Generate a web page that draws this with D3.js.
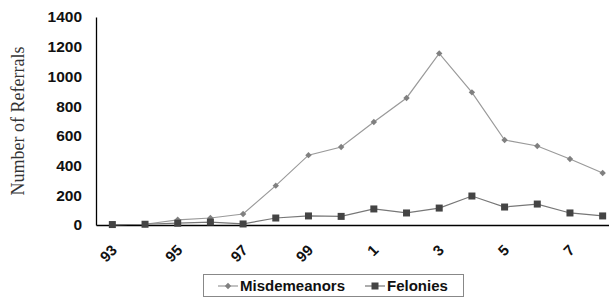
<!DOCTYPE html>
<html>
<head>
<meta charset="utf-8">
<script src="https://cdn.jsdelivr.net/npm/d3@7"></script>
<style>
  body { margin: 0; background: #fff; }
  .tick text { font-family: "Liberation Sans", Arial, sans-serif; font-weight: bold; }
</style>
</head>
<body>
<div id="chart"></div>
<script>
// Chart data
var years = ["93", "94", "95", "96", "97", "98", "99", "0", "1", "2", "3", "4", "5", "6", "7", "8"];
var misdemeanors = [2, 5, 35, 47, 74, 265, 470, 525, 693, 855, 1155, 893, 572, 532, 444, 350];
var felonies = [3, 5, 12, 20, 7, 47, 61, 58, 108, 81, 114, 195, 121, 141, 81, 61];
var yTicks = [0, 200, 400, 600, 800, 1000, 1200, 1400];

var svgWidth = 609;
var svgHeight = 301;

var svg = d3.select("#chart").append("svg")
  .attr("width", svgWidth)
  .attr("height", svgHeight);

// plot area runs past the right edge, like the original crop
var x = d3.scalePoint()
  .domain(years)
  .range([96, 619])
  .padding(0.5);

var y = d3.scaleLinear()
  .domain([0, 1400])
  .range([225, 17]);

// y axis
var yAxis = svg.append("g")
  .attr("transform", "translate(96,0)")
  .call(d3.axisLeft(y).tickValues(yTicks).tickSize(0).tickPadding(14).tickFormat(d3.format("d")));
yAxis.select(".domain").attr("stroke", "#000").attr("stroke-width", 1.3);
yAxis.selectAll(".tick text")
  .attr("font-size", "15.5px")
  .attr("fill", "#111");

// x axis
var xAxis = svg.append("g")
  .attr("transform", "translate(0,225)")
  .call(d3.axisBottom(x).tickSize(0)
    .tickFormat(function(d, i) { return i % 2 === 0 ? d : ""; }));
xAxis.select(".domain").attr("stroke", "#000").attr("stroke-width", 1.3);
xAxis.selectAll(".tick text")
  .attr("font-size", "15px")
  .attr("fill", "#111")
  .attr("text-anchor", "end")
  .attr("dy", null)
  .attr("transform", "translate(3,24) rotate(-45)");

// axis title
svg.append("text")
  .attr("transform", "translate(24,121) rotate(-90)")
  .attr("text-anchor", "middle")
  .attr("font-family", "Liberation Serif, Times New Roman, serif")
  .attr("font-size", "18px")
  .attr("fill", "#333")
  .text("Number of Referrals");

var line = d3.line()
  .x(function(d, i) { return x(years[i]); })
  .y(function(d) { return y(d); });

var diamond = d3.symbol().type(d3.symbolDiamond2).size(26);

// misdemeanors
svg.append("path")
  .datum(misdemeanors)
  .attr("fill", "none")
  .attr("stroke", "#9a9a9a")
  .attr("stroke-width", 1.2)
  .attr("d", line);

svg.selectAll(".mis")
  .data(misdemeanors)
  .enter()
  .append("path")
  .attr("class", "mis")
  .attr("transform", function(d, i) { return "translate(" + x(years[i]) + "," + y(d) + ")"; })
  .attr("d", diamond)
  .attr("fill", "#808080");

// felonies
svg.append("path")
  .datum(felonies)
  .attr("fill", "none")
  .attr("stroke", "#777")
  .attr("stroke-width", 1.2)
  .attr("d", line);

svg.selectAll(".fel")
  .data(felonies)
  .enter()
  .append("rect")
  .attr("class", "fel")
  .attr("x", function(d, i) { return x(years[i]) - 3.5; })
  .attr("y", function(d) { return y(d) - 3.5; })
  .attr("width", 7)
  .attr("height", 7)
  .attr("fill", "#444");

// legend
var legend = svg.append("g");
legend.append("rect")
  .attr("x", 203.5)
  .attr("y", 274.5)
  .attr("width", 260)
  .attr("height", 22)
  .attr("fill", "none")
  .attr("stroke", "#888")
  .attr("stroke-width", 1);

legend.append("line")
  .attr("x1", 218).attr("x2", 238).attr("y1", 286).attr("y2", 286)
  .attr("stroke", "#9a9a9a").attr("stroke-width", 1.2);
legend.append("path")
  .attr("transform", "translate(228,286)")
  .attr("d", diamond)
  .attr("fill", "#808080");
legend.append("text")
  .attr("x", 240).attr("y", 291)
  .attr("font-family", "Liberation Sans, Arial, sans-serif")
  .attr("font-weight", "bold")
  .attr("font-size", "15px")
  .attr("fill", "#111")
  .text("Misdemeanors");

legend.append("line")
  .attr("x1", 365).attr("x2", 385).attr("y1", 286).attr("y2", 286)
  .attr("stroke", "#777").attr("stroke-width", 1.2);
legend.append("rect")
  .attr("x", 371.5).attr("y", 282.5).attr("width", 7).attr("height", 7)
  .attr("fill", "#444");
legend.append("text")
  .attr("x", 387).attr("y", 291)
  .attr("font-family", "Liberation Sans, Arial, sans-serif")
  .attr("font-weight", "bold")
  .attr("font-size", "15px")
  .attr("fill", "#111")
  .text("Felonies");
</script>
</body>
</html>
